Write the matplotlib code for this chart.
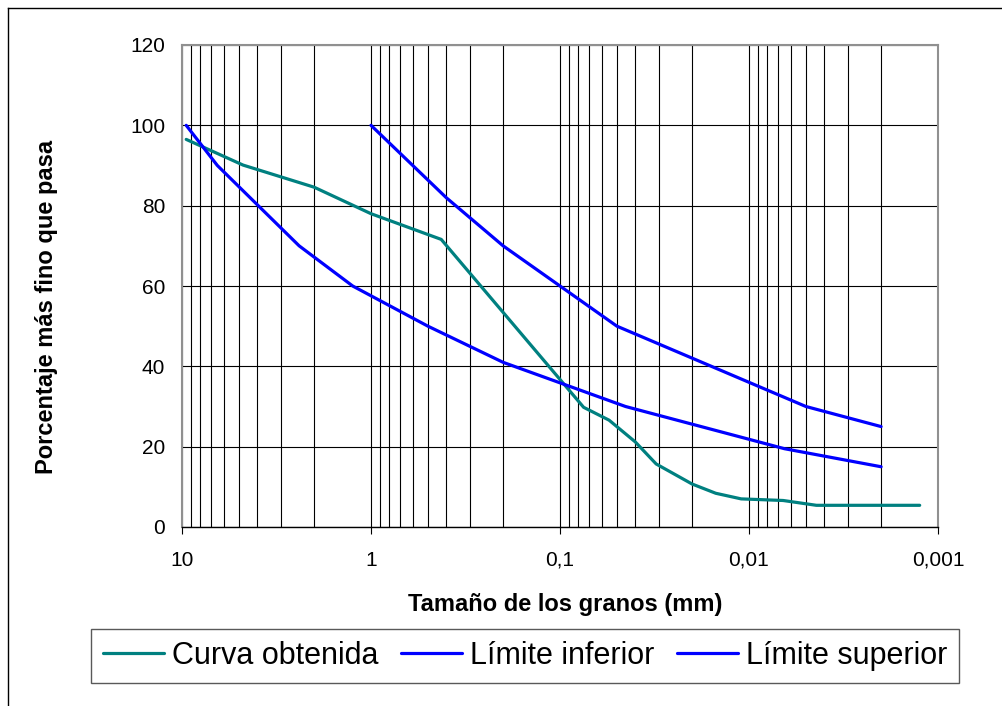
import numpy as np
import matplotlib
matplotlib.use("Agg")
import matplotlib.pyplot as plt
from matplotlib.lines import Line2D
from matplotlib.ticker import FixedLocator, NullFormatter

plt.rcParams['font.family'] = ['Liberation Sans', 'DejaVu Sans']

# granulometria: diametro (mm) vs % que pasa
d_curva = [9.5, 4.75, 2.0, 1.0, 0.425, 0.075, 0.055, 0.04, 0.031, 0.02,
           0.015, 0.011, 0.0066, 0.0044, 0.00125]
p_curva = [96.5, 90.1, 84.6, 78.0, 71.6, 29.8, 26.6, 21.2, 15.7, 10.7,
           8.4, 7.0, 6.6, 5.4, 5.4]

d_inf = [9.5, 6.5, 2.4, 1.25, 0.5, 0.2, 0.045, 0.0065, 0.002]
p_inf = [100, 90, 70, 60, 50, 41, 30, 19.5, 15]

d_sup = [1.0, 0.4, 0.2, 0.1, 0.05, 0.005, 0.002]
p_sup = [100, 82, 70, 60, 50, 30, 25]

x_ticks = [10, 1, 0.1, 0.01, 0.001]
x_labels = ["10", "1", "0,1", "0,01", "0,001"]
y_ticks = [0, 20, 40, 60, 80, 100, 120]

W, H = 1003, 706
fig = plt.figure(figsize=(W / 100, H / 100), dpi=100)
ax = fig.add_axes([182 / W, 1 - 527 / H, (938 - 182) / W, (527 - 45) / H])

ax.plot(d_curva, p_curva, color="#008080", lw=2.3, label="Curva obtenida",
        solid_joinstyle="round", solid_capstyle="round", zorder=3)
ax.plot(d_inf, p_inf, color="#0000FF", lw=2.3, label="Límite inferior",
        solid_joinstyle="round", solid_capstyle="round", zorder=3)
ax.plot(d_sup, p_sup, color="#0000FF", lw=2.3, label="Límite superior",
        solid_joinstyle="round", solid_capstyle="round", zorder=3)

ax.set_xscale("log")
ax.set_xlim(10, 0.001)
ax.set_ylim(0, 120)

ax.xaxis.set_major_locator(FixedLocator(x_ticks))
ax.set_xticklabels(x_labels)
minors = [m * 10.0 ** e for e in range(-3, 1) for m in range(2, 10)]
ax.xaxis.set_minor_locator(FixedLocator(minors))
ax.xaxis.set_minor_formatter(NullFormatter())
ax.set_yticks(y_ticks)

ax.grid(True, which="both", axis="x", color="black", lw=0.8)
ax.grid(True, which="major", axis="y", color="black", lw=0.8)
ax.set_axisbelow(True)

ax.tick_params(axis="x", which="major", length=5, width=0.8, direction="out",
               labelsize=15, pad=12)
ax.tick_params(axis="x", which="minor", length=0)
ax.tick_params(axis="y", length=0, labelsize=15, pad=12)

for side in ["left", "top", "right"]:
    ax.spines[side].set_color("#909090")
    ax.spines[side].set_linewidth(1.5)
ax.spines["bottom"].set_color("black")
ax.spines["bottom"].set_linewidth(1.0)

fig.text(47 / W, 1 - 307 / H, "Porcentaje más fino que pasa", rotation=90,
         ha="center", va="center", fontsize=17, fontweight="bold")
fig.text(565 / W, 1 - 605 / H, "Tamaño de los granos (mm)",
         ha="center", va="center", fontsize=17, fontweight="bold")

leg = fig.legend(loc="center", bbox_to_anchor=(525 / W, 1 - 656 / H), ncol=3,
                 fontsize=22, frameon=True, fancybox=False, shadow=False,
                 handlelength=2.0, handletextpad=0.25, columnspacing=0.75,
                 borderpad=0.4, borderaxespad=0)
leg.get_frame().set_edgecolor("#303030")
leg.get_frame().set_linewidth(1.0)

# marco exterior
fig.add_artist(Line2D([8 / W, 8 / W], [0, 1 - 8 / H], color="black", lw=1.0))
fig.add_artist(Line2D([8 / W, 1], [1 - 8 / H, 1 - 8 / H], color="black", lw=1.0))

fig.savefig("out.png", dpi=100)
